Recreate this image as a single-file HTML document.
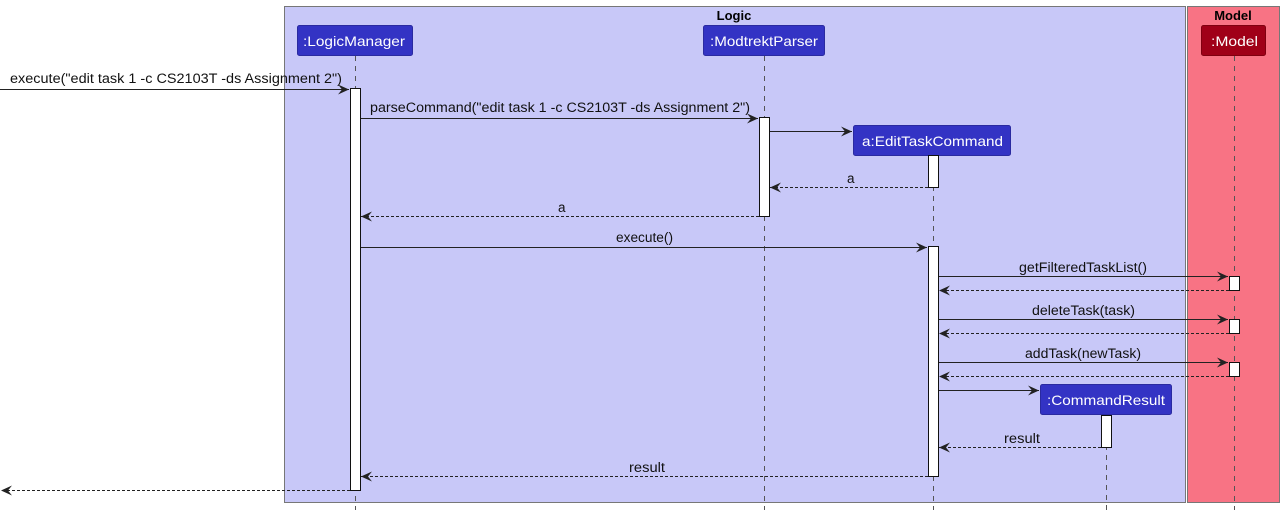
<!DOCTYPE html>
<html><head><meta charset="utf-8"><style>
html,body{margin:0;padding:0;background:#fff;}
svg{display:block;}
text{font-family:"Liberation Sans",sans-serif;}
</style></head><body>
<svg width="1284" height="514" viewBox="0 0 1284 514" xmlns="http://www.w3.org/2000/svg">
<defs>
<marker id="a" markerWidth="12" markerHeight="10" refX="11" refY="5" orient="auto" markerUnits="userSpaceOnUse">
<path d="M0,0 L11,5 L0,10 L4,5 Z" fill="#222"/>
</marker>
</defs>
<rect x="284.5" y="6.5" width="901" height="496" fill="#C8C8F8" stroke="#777" stroke-width="1"/>
<rect x="1187.5" y="6.5" width="92" height="496" fill="#F87384" stroke="#777" stroke-width="1"/>
<text x="734" y="20" font-size="13" font-weight="bold" text-anchor="middle">Logic</text>
<text x="1233" y="20" font-size="13" font-weight="bold" text-anchor="middle">Model</text>

<g stroke="#555" stroke-dasharray="5,5" stroke-width="1">
<line x1="355.5" y1="56" x2="355.5" y2="510"/>
<line x1="764.5" y1="56" x2="764.5" y2="510"/>
<line x1="933.5" y1="156" x2="933.5" y2="510"/>
<line x1="1106.5" y1="415" x2="1106.5" y2="510"/>
<line x1="1234.5" y1="56" x2="1234.5" y2="510"/>
</g>

<g font-size="14" fill="#fff">
<rect x="297.5" y="25.5" width="115" height="30" rx="2" fill="#3333C4" stroke="#2a2aa0"/>
<text x="303" y="46" textLength="102" lengthAdjust="spacingAndGlyphs">:LogicManager</text>
<rect x="703.5" y="25.5" width="121" height="30" rx="2" fill="#3333C4" stroke="#2a2aa0"/>
<text x="710" y="46" textLength="108" lengthAdjust="spacingAndGlyphs">:ModtrektParser</text>
<rect x="853.5" y="125.5" width="157" height="30" rx="2" fill="#3333C4" stroke="#2a2aa0"/>
<text x="862" y="146" textLength="141" lengthAdjust="spacingAndGlyphs">a:EditTaskCommand</text>
<rect x="1201.5" y="25.5" width="64" height="30" rx="2" fill="#A00018" stroke="#800010"/>
<text x="1211" y="46" textLength="47" lengthAdjust="spacingAndGlyphs">:Model</text>
<rect x="1040.5" y="384.5" width="131" height="30" rx="2" fill="#3333C4" stroke="#2a2aa0"/>
<text x="1047" y="405" textLength="118" lengthAdjust="spacingAndGlyphs">:CommandResult</text>
</g>

<g fill="#fff" stroke="#111" stroke-width="1">
<rect x="350.5" y="88.5" width="10" height="402"/>
<rect x="759.5" y="117.5" width="10" height="99"/>
<rect x="928.5" y="155.5" width="10" height="32"/>
<rect x="928.5" y="246.5" width="10" height="230"/>
<rect x="1229.5" y="276.5" width="10" height="14"/>
<rect x="1229.5" y="319.5" width="10" height="14"/>
<rect x="1229.5" y="362.5" width="10" height="14"/>
<rect x="1101.5" y="415.5" width="10" height="32"/>
</g>

<g stroke="#222" stroke-width="1" fill="none">
<line x1="0" y1="89.5" x2="349" y2="89.5" marker-end="url(#a)"/>
<line x1="361" y1="118.5" x2="758" y2="118.5" marker-end="url(#a)"/>
<line x1="770" y1="131.5" x2="852" y2="131.5" marker-end="url(#a)"/>
<line x1="928" y1="187.5" x2="770" y2="187.5" stroke-dasharray="3,2" marker-end="url(#a)"/>
<line x1="759" y1="216.5" x2="361" y2="216.5" stroke-dasharray="3,2" marker-end="url(#a)"/>
<line x1="361" y1="247.5" x2="927" y2="247.5" marker-end="url(#a)"/>
<line x1="939" y1="276.5" x2="1228" y2="276.5" marker-end="url(#a)"/>
<line x1="1229" y1="290.5" x2="939" y2="290.5" stroke-dasharray="3,2" marker-end="url(#a)"/>
<line x1="939" y1="319.5" x2="1228" y2="319.5" marker-end="url(#a)"/>
<line x1="1229" y1="333.5" x2="939" y2="333.5" stroke-dasharray="3,2" marker-end="url(#a)"/>
<line x1="939" y1="362.5" x2="1228" y2="362.5" marker-end="url(#a)"/>
<line x1="1229" y1="376.5" x2="939" y2="376.5" stroke-dasharray="3,2" marker-end="url(#a)"/>
<line x1="939" y1="390.5" x2="1039" y2="390.5" marker-end="url(#a)"/>
<line x1="1101" y1="447.5" x2="939" y2="447.5" stroke-dasharray="3,2" marker-end="url(#a)"/>
<line x1="928" y1="476.5" x2="361" y2="476.5" stroke-dasharray="3,2" marker-end="url(#a)"/>
<line x1="350" y1="490.5" x2="1" y2="490.5" stroke-dasharray="3,2" marker-end="url(#a)"/>
</g>

<g font-size="13.5" fill="#111" lengthAdjust="spacingAndGlyphs">
<text x="10" y="83" textLength="332" lengthAdjust="spacingAndGlyphs">execute("edit task 1 -c CS2103T -ds Assignment 2")</text>
<text x="370" y="112" textLength="380" lengthAdjust="spacingAndGlyphs">parseCommand("edit task 1 -c CS2103T -ds Assignment 2")</text>
<text x="847" y="183">a</text>
<text x="558" y="212">a</text>
<text x="616" y="242" textLength="57" lengthAdjust="spacingAndGlyphs">execute()</text>
<text x="1019" y="272" textLength="128" lengthAdjust="spacingAndGlyphs">getFilteredTaskList()</text>
<text x="1032" y="315" textLength="103" lengthAdjust="spacingAndGlyphs">deleteTask(task)</text>
<text x="1025" y="358" textLength="116" lengthAdjust="spacingAndGlyphs">addTask(newTask)</text>
<text x="1004" y="443" textLength="36" lengthAdjust="spacingAndGlyphs">result</text>
<text x="629" y="472" textLength="36" lengthAdjust="spacingAndGlyphs">result</text>
</g>
</svg>
</body></html>
